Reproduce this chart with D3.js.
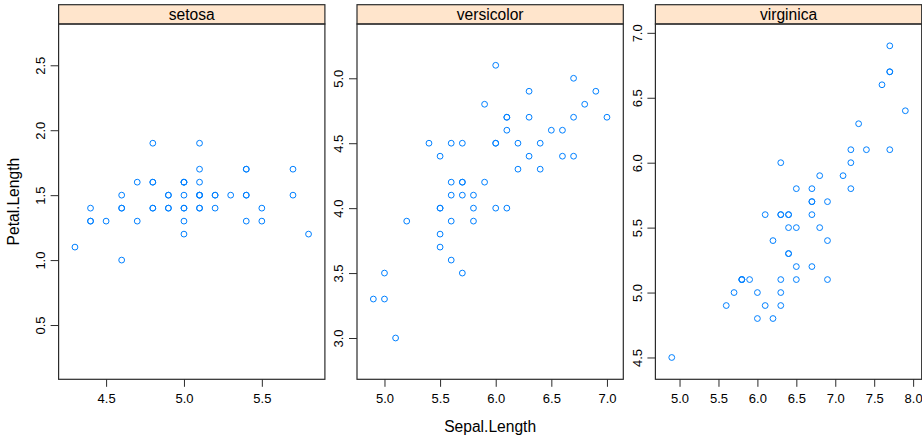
<!DOCTYPE html>
<html>
<head>
<meta charset="utf-8">
<script src="https://cdn.jsdelivr.net/npm/d3@7"></script>
<style>
  html, body { margin: 0; padding: 0; background: #fff; }
  svg { display: block; font-family: "Liberation Sans", Arial, Helvetica, sans-serif; }
</style>
</head>
<body>
<svg id="chart" width="922" height="439"></svg>
<script>
// ---- data (iris: Sepal.Length, Petal.Length by Species) ----
const species = ["setosa", "versicolor", "virginica"];

const setosaSepal = [5.1,4.9,4.7,4.6,5.0,5.4,4.6,5.0,4.4,4.9,5.4,4.8,4.8,4.3,5.8,5.7,5.4,5.1,5.7,5.1,5.4,5.1,4.6,5.1,4.8,5.0,5.0,5.2,5.2,4.7,4.8,5.4,5.2,5.5,4.9,5.0,5.5,4.9,4.4,5.1,5.0,4.5,4.4,5.0,5.1,4.8,5.1,4.6,5.3,5.0];
const setosaPetal = [1.4,1.4,1.3,1.5,1.4,1.7,1.4,1.5,1.4,1.5,1.5,1.6,1.4,1.1,1.2,1.5,1.3,1.4,1.7,1.5,1.7,1.5,1.0,1.7,1.9,1.6,1.6,1.5,1.4,1.6,1.6,1.5,1.5,1.4,1.5,1.2,1.3,1.4,1.3,1.5,1.3,1.3,1.3,1.6,1.9,1.4,1.6,1.4,1.5,1.4];

const versicolorSepal = [7.0,6.4,6.9,5.5,6.5,5.7,6.3,4.9,6.6,5.2,5.0,5.9,6.0,6.1,5.6,6.7,5.6,5.8,6.2,5.6,5.9,6.1,6.3,6.1,6.4,6.6,6.8,6.7,6.0,5.7,5.5,5.5,5.8,6.0,5.4,6.0,6.7,6.3,5.6,5.5,5.5,6.1,5.8,5.0,5.6,5.7,5.7,6.2,5.1,5.7];
const versicolorPetal = [4.7,4.5,4.9,4.0,4.6,4.5,4.7,3.3,4.6,3.9,3.5,4.2,4.0,4.7,3.6,4.4,4.5,4.1,4.5,3.9,4.8,4.0,4.9,4.7,4.3,4.4,4.8,5.0,4.5,3.5,3.8,3.7,3.9,5.1,4.5,4.5,4.7,4.4,4.1,4.0,4.4,4.6,4.0,3.3,4.2,4.2,4.2,4.3,3.0,4.1];

const virginicaSepal = [6.3,5.8,7.1,6.3,6.5,7.6,4.9,7.3,6.7,7.2,6.5,6.4,6.8,5.7,5.8,6.4,6.5,7.7,7.7,6.0,6.9,5.6,7.7,6.3,6.7,7.2,6.2,6.1,6.4,7.2,7.4,7.9,6.4,6.3,6.1,7.7,6.3,6.4,6.0,6.9,6.7,6.9,5.8,6.8,6.7,6.7,6.3,6.5,6.2,5.9];
const virginicaPetal = [6.0,5.1,5.9,5.6,5.8,6.6,4.5,6.3,5.8,6.1,5.1,5.3,5.5,5.0,5.1,5.3,5.5,6.7,6.9,5.0,5.7,4.9,6.7,4.9,5.7,6.0,4.8,4.9,5.6,5.8,6.1,6.4,5.6,5.1,5.6,6.1,5.6,5.5,4.8,5.4,5.6,5.1,5.1,5.9,5.7,5.2,5.0,5.2,5.4,5.1];

// tick labels per panel
const setosaXTicks = [4.5, 5.0, 5.5];
const versicolorXTicks = [5.0, 5.5, 6.0, 6.5, 7.0];
const virginicaXTicks = [5.0, 5.5, 6.0, 6.5, 7.0, 7.5, 8.0];
const setosaYTicks = [0.5, 1.0, 1.5, 2.0, 2.5];
const versicolorYTicks = [3.0, 3.5, 4.0, 4.5, 5.0];
const virginicaYTicks = [4.5, 5.0, 5.5, 6.0, 6.5, 7.0];

const xLabel = "Sepal.Length";
const yLabel = "Petal.Length";

// ---- layout ----
const panels = [
  {name: species[0], xs: setosaSepal, ys: setosaPetal, xt: setosaXTicks, yt: setosaYTicks},
  {name: species[1], xs: versicolorSepal, ys: versicolorPetal, xt: versicolorXTicks, yt: versicolorYTicks},
  {name: species[2], xs: virginicaSepal, ys: virginicaPetal, xt: virginicaXTicks, yt: virginicaYTicks}
];

const firstLeft = 58.6, panelW = 266.3, gap = 32.1;
const stripTop = 4.7, panelTop = 24, panelBottom = 379.3;
const pad = 0.07;

// y relation "sliced": common range width, centered per panel
const ranges = panels.map(p => d3.extent(p.ys));
const maxW = d3.max(ranges, r => r[1] - r[0]);
const yWidth = maxW * (1 + 2 * pad);

const svg = d3.select("#chart");
const border = "#2b2b2b";

panels.forEach((p, i) => {
  const left = firstLeft + i * (panelW + gap);
  const right = left + panelW;

  const xe = d3.extent(p.xs);
  const xr = xe[1] - xe[0];
  const x = d3.scaleLinear().domain([xe[0] - pad * xr, xe[1] + pad * xr]).range([left, right]);

  const ye = d3.extent(p.ys);
  const yc = (ye[0] + ye[1]) / 2;
  const y = d3.scaleLinear().domain([yc - yWidth / 2, yc + yWidth / 2]).range([panelBottom, panelTop]);

  // strip
  svg.append("rect")
    .attr("x", left).attr("y", stripTop)
    .attr("width", panelW).attr("height", panelTop - stripTop)
    .attr("fill", "#ffe5cc").attr("stroke", border).attr("stroke-width", 1.2);
  svg.append("text")
    .attr("x", (left + right) / 2).attr("y", 20)
    .attr("text-anchor", "middle")
    .attr("font-size", "15.6px").attr("fill", "#000")
    .text(p.name);

  // panel box
  svg.append("rect")
    .attr("x", left).attr("y", panelTop)
    .attr("width", panelW).attr("height", panelBottom - panelTop)
    .attr("fill", "none").attr("stroke", border).attr("stroke-width", 1.2);

  // x axis
  const gx = svg.append("g")
    .attr("transform", `translate(0,${panelBottom})`)
    .call(d3.axisBottom(x).tickValues(p.xt).tickFormat(d3.format(".1f")).tickSize(7.5).tickSizeOuter(0).tickPadding(6.5));
  gx.select(".domain").remove();
  gx.selectAll(".tick line").attr("stroke", border);
  gx.selectAll(".tick text").attr("font-size", "13px").attr("fill", "#000")
    .attr("font-family", "Liberation Sans, Arial, sans-serif");

  // y axis
  const gy = svg.append("g")
    .attr("transform", `translate(${left},0)`)
    .call(d3.axisLeft(y).tickValues(p.yt).tickFormat(d3.format(".1f")).tickSize(8).tickSizeOuter(0));
  gy.select(".domain").remove();
  gy.selectAll(".tick line").attr("stroke", border);
  gy.selectAll(".tick text")
    .attr("x", null).attr("dy", null)
    .attr("text-anchor", "middle")
    .attr("transform", "translate(-13.8,0) rotate(-90)")
    .attr("font-size", "13px").attr("fill", "#000")
    .attr("font-family", "Liberation Sans, Arial, sans-serif");

  // points
  svg.append("g").selectAll("circle")
    .data(d3.range(p.xs.length))
    .join("circle")
    .attr("cx", k => x(p.xs[k]))
    .attr("cy", k => y(p.ys[k]))
    .attr("r", 2.9)
    .attr("fill", "none")
    .attr("stroke", "#0080ff")
    .attr("stroke-width", 1);
});

// axis titles
const plotLeft = firstLeft, plotRight = firstLeft + 3 * panelW + 2 * gap;
svg.append("text")
  .attr("x", (plotLeft + plotRight) / 2).attr("y", 431.5)
  .attr("text-anchor", "middle").attr("font-size", "15.6px").attr("fill", "#000")
  .text(xLabel);
svg.append("text")
  .attr("transform", `translate(18.6,${(panelTop + panelBottom) / 2}) rotate(-90)`)
  .attr("text-anchor", "middle").attr("font-size", "15.6px").attr("fill", "#000")
  .text(yLabel);
</script>
</body>
</html>
